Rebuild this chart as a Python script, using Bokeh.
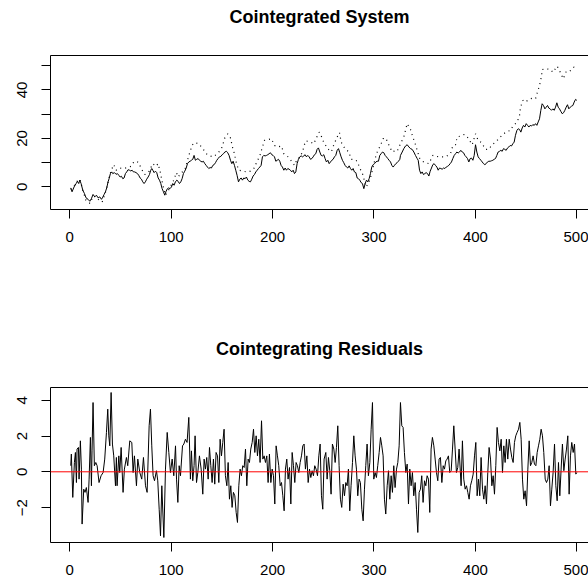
from bokeh.plotting import figure
from bokeh.models import Range1d, FixedTicker, LinearAxis, Span, Title
from bokeh.layouts import column
from bokeh.embed import file_html
from bokeh.resources import INLINE

# ---------------- data ----------------
x_ticks = [0, 100, 200, 300, 400, 500]
sys_yticks = [0, 10, 20, 30, 40, 50]
sys_ylabels = {0: "0", 10: "", 20: "20", 30: "", 40: "40", 50: ""}
res_yticks = [-2, 0, 2, 4]
res_ylabels = {-2: "\u22122", 0: "0", 2: "2", 4: "4"}

# solid series (index, value)
x_t = [1, 2.3, 4.3, 6.3, 7.6, 8.9, 9.9, 11.2, 12.9, 14.5,
       16.1, 18.1, 19.8, 21.4, 23, 24.7, 26.3, 28, 29.6, 31.3,
       32.6, 33.9, 35.2, 36.5, 37.8, 38.8, 40.1, 41.4, 42.4, 44.1,
       45.7, 47, 48.4, 49.7, 51, 52.3, 53.6, 54.9, 56.2, 57.5,
       58.9, 60.2, 61.5, 62.8, 64.1, 65.4, 66.8, 68, 69.4, 70.7,
       72, 73.3, 74.6, 75.9, 77.3, 78.6, 79.9, 80.9, 81.9, 83.2,
       84.5, 85.8, 87.2, 88.5, 89.8, 91.1, 92.4, 93.7, 95, 96.3,
       97.6, 98.9, 100.3, 101.6, 102.9, 104.2, 105.6, 106.9, 108.2, 109.5,
       110.8, 112.1, 113.4, 114.7, 116.1, 117.4, 118.7, 120, 121.3, 122.6,
       123.9, 125.2, 126.6, 127.9, 129.2, 130.5, 131.8, 133.2, 134.5, 135.8,
       137.1, 138.4, 139.7, 141.1, 142.4, 143.7, 145, 146.3, 147.6, 149,
       150.3, 151.6, 152.9, 154.5, 155.8, 157.1, 158.5, 159.8, 161.1, 162.4,
       163.7, 165, 166.4, 167.7, 169, 170.3, 171.6, 172.9, 174.2, 175.6,
       176.9, 178.2, 179.5, 180.8, 182.1, 183.5, 184.8, 186.1, 187.4, 188.7,
       190, 191.3, 192.7, 194, 195.3, 196.6, 197.9, 199.2, 200.5, 201.9,
       203.2, 204.5, 205.8, 207.1, 208.4, 209.7, 211.1, 212.4, 213.7, 215,
       216.3, 217.6, 218.9, 220.3, 221.6, 222.9, 224.2, 225.5, 226.8, 228.2,
       229.5, 230.8, 232.1, 233.4, 234.7, 236.1, 237.4, 238.7, 240, 241.3,
       242.6, 243.9, 245.2, 246.6, 247.9, 249.2, 250.5, 251.8, 253.1, 254.5,
       255.8, 257.1, 258.4, 259.7, 261, 262.3, 263.7, 265, 266.3, 267.6,
       268.9, 270.2, 271.5, 272.9, 274.2, 275.5, 276.8, 278.1, 279.4, 280.7,
       282.1, 283.4, 284.7, 286, 287.3, 288.6, 290, 291.3, 292.6, 293.9,
       295.2, 296.5, 297.8, 299.2, 300.5, 301.8, 303.1, 304.4, 305.7, 307,
       308.4, 309.7, 311, 312.3, 313.6, 314.9, 316.3, 317.6, 318.9, 320.2,
       321.5, 322.8, 324.1, 325.5, 326.1, 327.8, 329.4, 331.1, 332.7, 334.4,
       336, 337.6, 339.3, 340.9, 342.6, 343.6, 344.9, 346.2, 347.5, 348.8,
       350.1, 351.4, 352.8, 354.1, 355.4, 356.7, 358, 359.3, 360.6, 362,
       363.3, 364.6, 365.9, 367.2, 368.5, 369.9, 371.2, 372.5, 373.8, 375.1,
       376.4, 377.7, 379.1, 380.4, 381.7, 383, 384.3, 385.6, 387, 388.3,
       389.6, 390.9, 392.2, 393.5, 394.8, 396.2, 397.5, 398.8, 400.1, 401.4,
       402.7, 404, 405.4, 406.7, 408, 409.3, 410.6, 411.9, 413.2, 414.6,
       415.9, 417.2, 418.5, 419.8, 421.1, 422.4, 423.8, 425.1, 426.4, 427.7,
       429, 430.3, 431.7, 433, 434.3, 435.6, 436.9, 438.2, 439.5, 440.9,
       442.2, 443.5, 444.8, 446.1, 447.4, 448.7, 450.1, 451.4, 452.7, 454,
       455.3, 456.6, 458, 459.3, 460.6, 461.9, 463.2, 464.5, 465.8, 467.1,
       468.5, 469.8, 471.1, 472.4, 473.7, 475, 476.4, 477.7, 479, 480.3,
       481.6, 482.9, 484.3, 485.6, 486.9, 488.2, 489.5, 490.8, 492.1, 493.5,
       494.8, 496.1, 497.4, 498.7, 500]
x_v = [-0.4, -2.0, 0.0, 1.4, 2.3, 1.4, 2.8, 1.4, -1.4, -2.7,
       -4.5, -5.1, -5.9, -4.8, -3.1, -4.1, -3.4, -4.5, -4.1, -5.1,
       -4.2, -3.1, -2.0, -0.4, 2.1, 3.4, 5.5, 6.2, 5.5, 5.9,
       5.2, 5.5, 4.8, 4.1, 4.4, 3.4, 3.7, 5.5, 6.2, 7.1,
       6.9, 6.6, 6.9, 6.2, 6.2, 5.9, 5.5, 4.8, 3.7, 3.2,
       2.1, 1.4, 2.1, 3.2, 4.1, 5.1, 6.9, 7.6, 6.9, 5.9,
       6.5, 5.9, 3.7, 2.8, 1.4, -0.7, -2.0, -3.4, -1.8, -0.7,
       -0.4, -0.7, 0.0, 1.4, 0.7, 2.1, 2.8, 2.3, 1.4, 2.1,
       3.4, 5.5, 6.5, 7.6, 9.6, 10.3, 10.6, 11.0, 11.4, 13.0,
       11.0, 11.4, 11.7, 11.0, 10.6, 10.3, 10.6, 9.6, 8.9, 8.2,
       7.6, 8.0, 7.8, 8.9, 9.2, 10.0, 11.0, 11.7, 12.4, 12.6,
       13.3, 13.7, 14.4, 14.7, 14.1, 13.0, 11.0, 9.6, 10.6, 8.9,
       6.9, 4.8, 2.1, 3.2, 3.7, 2.8, 3.7, 3.4, 4.1, 2.8,
       2.3, 2.1, 3.2, 4.5, 5.1, 6.2, 6.9, 7.6, 8.2, 8.9,
       12.4, 13.0, 12.8, 13.0, 13.3, 13.7, 14.1, 13.3, 13.0, 12.4,
       10.6, 11.0, 11.4, 10.6, 8.9, 8.2, 6.9, 7.8, 6.9, 7.6,
       7.3, 6.9, 6.2, 6.9, 5.5, 6.2, 9.6, 11.4, 12.4, 12.8,
       12.4, 12.8, 13.3, 12.4, 13.0, 12.4, 11.4, 11.7, 12.4, 13.3,
       13.7, 15.5, 16.1, 14.4, 13.0, 12.8, 13.3, 11.7, 10.3, 11.0,
       9.6, 10.3, 11.0, 11.4, 12.4, 13.0, 15.1, 15.8, 14.1, 12.4,
       11.0, 10.0, 8.9, 8.2, 7.8, 8.7, 7.6, 6.9, 7.6, 6.2,
       5.9, 3.7, 3.4, 2.8, 1.8, 1.4, -0.7, 1.4, 2.8, 2.1,
       3.4, 5.5, 8.2, 9.2, 9.6, 10.3, 10.6, 10.6, 13.0, 13.7,
       14.4, 14.1, 13.0, 12.4, 11.7, 11.0, 10.3, 8.9, 8.2, 8.9,
       9.6, 10.0, 10.6, 11.4, 13.0, 14.4, 15.8, 16.9, 17.4, 16.5,
       15.8, 15.5, 14.4, 13.0, 11.7, 11.0, 6.9, 5.5, 6.2, 5.1,
       5.5, 5.9, 5.5, 4.5, 6.5, 7.8, 9.2, 9.6, 8.9, 8.2,
       6.9, 7.8, 7.6, 7.3, 7.8, 7.6, 8.2, 8.5, 8.9, 9.6,
       10.3, 11.7, 13.0, 13.7, 14.4, 14.0, 14.4, 15.1, 14.4, 14.1,
       13.0, 12.4, 11.7, 10.3, 11.7, 11.9, 11.0, 13.0, 17.4, 14.4,
       12.4, 11.7, 11.0, 10.3, 9.6, 9.2, 9.6, 10.3, 10.6, 10.6,
       10.8, 11.0, 11.4, 11.7, 13.0, 14.4, 14.7, 15.1, 14.7, 15.8,
       15.5, 15.1, 16.1, 16.5, 17.1, 16.9, 17.8, 18.5, 21.3, 23.3,
       24.0, 23.7, 22.6, 24.3, 25.4, 24.7, 26.1, 25.4, 24.7, 25.4,
       25.1, 25.7, 25.4, 26.1, 25.4, 26.8, 28.1, 31.6, 34.3, 33.6,
       32.2, 32.9, 33.6, 32.5, 32.2, 31.6, 32.2, 31.6, 32.9, 34.7,
       32.9, 32.2, 31.1, 30.2, 30.6, 31.6, 32.9, 33.9, 32.2, 32.9,
       33.3, 33.6, 35.0, 36.1, 35.7]

# dotted series (index, value)
y_t = [1, 4, 8, 10, 13, 16, 20, 23, 26, 29,
       32, 35, 37, 38.5, 41, 43.4, 45.7, 49, 52.6, 57.2,
       60.5, 63.1, 65.8, 68.1, 70.4, 74, 77.9, 81.9, 85, 87.1,
       89.1, 91.7, 94.4, 98.3, 102.6, 105.2, 106.9, 110.1, 113.4, 115.7,
       118, 120.7, 123.3, 127.2, 131.2, 135.5, 138.4, 141.4, 144.3, 147,
       149.6, 150.9, 152.9, 155.8, 158.5, 160.4, 162.4, 164.4, 166.7, 170,
       174.2, 178.2, 181.5, 184.8, 187.4, 189.7, 192, 195.6, 198.9, 201.9,
       205.1, 208.8, 211.1, 215.3, 219.3, 221.6, 224.2, 227.5, 230.1, 232.4,
       236.4, 240.6, 243.3, 245.9, 248.2, 250.5, 253.1, 255.4, 258, 260.4,
       263.7, 266, 267.6, 270.9, 275.2, 277.5, 280.1, 283.4, 286, 289.3,
       291.9, 294.6, 297.2, 299.2, 301.1, 303.8, 306.4, 309, 311.6, 314.6,
       317.9, 321.2, 322.8, 326.1, 329.4, 332.7, 336, 338.3, 340.3, 342.6,
       344.9, 347.5, 350.8, 354.1, 358, 361.3, 365.6, 370.5, 375.4, 377.7,
       380.4, 382, 385.3, 388.6, 390.9, 394.2, 396.8, 400.1, 402.7, 406,
       410, 413.2, 416.5, 419.8, 423.1, 427, 431.3, 434.6, 436.9, 441.2,
       443.5, 444.5, 446.8, 449.4, 452.7, 456, 459.3, 461.2, 463.2, 465.2,
       465.8, 469.8, 474.1, 476.4, 480.6, 482.9, 486.6, 489.5, 492.8, 497.1, 500]
y_v = [-1.0, 0.3, 2.8, 3.2, -1.5, -5.5, -6.8, -3.8, -4.2, -5.5,
       -6.2, -2.5, 0.5, 3.4, 6.9, 9.2, 6.9, 7.8, 7.6, 8.0,
       8.5, 10.3, 10.6, 10.0, 7.6, 5.1, 6.2, 9.6, 8.5, 9.6,
       6.5, 1.0, -3.4, -0.7, 2.8, 5.9, 4.1, 5.9, 6.9, 10.3,
       13.7, 17.2, 18.3, 17.8, 15.8, 13.3, 12.8, 12.4, 13.3, 14.4,
       15.8, 17.4, 20.2, 21.9, 20.2, 16.5, 13.7, 9.6, 6.9, 6.6,
       6.2, 6.5, 7.6, 10.6, 12.8, 16.1, 19.2, 19.5, 19.9, 17.1,
       16.5, 16.9, 13.7, 12.4, 10.3, 8.9, 11.4, 12.4, 15.4, 18.9,
       18.8, 17.8, 20.3, 22.6, 20.8, 18.3, 16.7, 15.4, 14.5, 17.4,
       20.6, 22.4, 18.5, 16.1, 14.4, 11.4, 11.4, 10.6, 7.8, 4.8,
       0.0, 1.4, 4.8, 8.2, 11.7, 15.1, 17.1, 19.9, 20.2, 17.4,
       14.4, 15.0, 14.7, 17.8, 20.6, 26.1, 23.7, 20.6, 18.3, 15.1,
       11.9, 10.6, 10.0, 9.6, 13.0, 12.6, 12.4, 12.4, 13.7, 16.9,
       17.4, 20.6, 21.0, 21.6, 21.3, 19.2, 17.4, 21.9, 19.2, 18.3,
       15.5, 15.5, 17.4, 18.5, 19.9, 21.7, 22.9, 23.3, 25.1, 26.8,
       29.5, 32.9, 35.7, 35.0, 36.1, 36.6, 36.4, 39.1, 41.8, 45.7,
       48.4, 48.7, 48.4, 47.3, 49.8, 48.0, 44.6, 47.6, 47.6, 49.4, 49.0]

# residual series (index, value)
res_t = [1, 1.6, 3.0, 4.6, 5.6, 6.6, 7.2, 8.6, 9.2, 10.5,
         11.5, 12.2, 13.8, 15.1, 16.4, 18.1, 19.1, 20.4, 21.4, 22.0,
         23.0, 24.3, 25.7, 27.0, 28.9, 30.9, 32.9, 34.5, 36.2, 37.5,
         38.5, 39.5, 40.8, 42.1, 43.4, 45.1, 46.0, 46.7, 48.4, 49.3,
         50.7, 52.6, 53.9, 55.9, 57.2, 59.2, 61.2, 62.5, 63.8, 65.8,
         67.1, 69.1, 71.0, 72.7, 74.7, 76.3, 78.3, 79.6, 80.9, 82.2,
         83.6, 85.5, 86.8, 88.2, 89.5, 90.8, 92.8, 94.4, 96.1, 97.7,
         99.3, 101.0, 102.6, 104.3, 105.3, 106.6, 107.9, 109.2, 111.2, 112.5,
         114.1, 115.7, 117.4, 119.0, 120.0, 121.3, 122.6, 123.6, 125.0, 126.3,
         127.9, 129.6, 131.2, 132.5, 133.8, 135.1, 136.5, 137.8, 139.1, 140.4,
         141.7, 143.0, 144.3, 145.7, 147.0, 148.3, 149.6, 150.9, 152.2, 153.5,
         154.9, 156.2, 157.5, 158.8, 160.1, 161.4, 162.8, 164.1, 165.4, 166.7,
         168.0, 169.3, 170.6, 172.0, 173.3, 174.6, 175.9, 177.2, 178.5, 179.9,
         181.2, 182.5, 183.8, 185.1, 186.4, 187.7, 189.1, 190.4, 191.7, 193.0,
         194.3, 195.6, 196.9, 198.3, 199.6, 200.9, 202.2, 203.5, 204.8, 206.1,
         207.5, 208.8, 210.1, 211.4, 212.7, 214.0, 215.3, 216.7, 218.0, 219.3,
         220.6, 221.9, 223.2, 224.5, 225.9, 227.2, 228.5, 229.8, 231.1, 232.4,
         233.8, 235.1, 236.4, 237.7, 239.0, 240.3, 241.6, 242.9, 244.3, 245.6,
         246.9, 248.2, 249.5, 250.8, 252.5, 253.8, 255.1, 256.4, 257.7, 259.0,
         260.4, 261.7, 263.0, 264.3, 265.6, 266.9, 268.2, 269.6, 270.9, 272.2,
         273.5, 274.8, 276.1, 277.4, 278.8, 280.1, 281.4, 282.7, 284.0, 285.3,
         286.6, 288.0, 289.3, 290.6, 291.9, 293.2, 294.5, 295.9, 297.2, 298.5,
         299.8, 301.1, 302.4, 303.7, 305.1, 306.4, 307.7, 309.0, 310.3, 311.6,
         313.0, 314.3, 315.6, 316.9, 318.2, 319.5, 320.8, 322.2, 323.5, 324.8,
         326.1, 327.4, 328.7, 330.0, 331.4, 332.7, 334.0, 335.3, 336.6, 337.9,
         339.2, 340.6, 341.9, 343.2, 344.5, 345.8, 347.1, 348.4, 349.8, 351.1,
         352.4, 353.7, 355.0, 356.3, 357.6, 359.0, 360.3, 361.6, 362.9, 364.2,
         365.5, 366.9, 368.2, 369.5, 370.8, 372.1, 373.4, 374.7, 376.1, 377.4,
         378.7, 380.0, 381.3, 382.6, 383.9, 385.9, 387.2, 388.5, 389.9, 391.2,
         392.5, 393.8, 395.1, 396.4, 397.8, 399.1, 400.4, 401.7, 403.0, 404.3,
         405.6, 407.0, 408.3, 409.6, 410.9, 412.2, 413.5, 414.9, 416.2, 417.5,
         418.8, 420.1, 421.4, 422.7, 424.1, 425.4, 426.7, 428.0, 429.3, 430.6,
         431.9, 433.3, 434.6, 435.9, 437.2, 438.5, 439.8, 441.1, 442.5, 443.8,
         445.1, 446.4, 447.7, 449.0, 450.4, 451.7, 453.0, 454.3, 455.6, 456.9,
         458.2, 459.6, 460.9, 462.2, 463.5, 464.8, 466.1, 467.4, 468.8, 470.1,
         471.4, 472.7, 474.0, 475.3, 476.6, 478.0, 479.3, 480.6, 481.9, 483.2,
         484.5, 485.8, 487.2, 488.5, 489.8, 491.1, 492.4, 493.7, 495.0, 496.4,
         497.7, 499.0, 500.0]
res_v = [0.34, 0.99, -1.43, 0.52, 1.08, -0.60, 1.27, 1.36, -0.41, 1.73,
         0.15, -2.92, -0.97, -1.15, -0.88, -1.71, -0.41, 1.92, -0.78, 1.17,
         3.87, 0.34, 0.52, 0.34, -0.60, -0.22, -0.04, 0.71, 2.20, 3.50,
         2.01, 1.45, 4.43, 1.55, 0.89, -0.78, 0.80, -0.78, 0.89, -0.04,
         1.36, -1.15, 0.15, 0.80, 0.34, 1.73, 1.64, -0.04, 0.89, -0.78,
         0.71, -0.04, -0.41, 0.80, -0.78, -1.15, 2.57, 3.50, 1.45, -0.22,
         -0.50, 0.06, -0.50, -2.09, -3.58, -0.78, -3.67, 0.15, 2.20, 1.08,
         -0.04, 0.71, -0.22, 1.45, -0.41, -1.71, 0.34, -0.22, 1.45, 1.55,
         1.82, 1.64, 3.04, -0.41, 1.17, -0.50, 0.34, 2.01, -0.60, -0.04,
         0.89, 0.15, -1.25, 0.71, 0.15, 0.80, -0.41, 1.36, 0.34, -0.60,
         0.71, -0.69, 1.08, 0.89, -0.60, 1.82, 0.89, 1.64, 2.38, -0.22,
         -0.78, 0.52, -1.53, -0.78, -1.99, -1.15, -1.34, -2.27, -2.83, -0.78,
         0.15, -0.22, 0.34, 0.24, 1.27, -0.78, 0.71, 0.52, 1.27, 1.64,
         2.38, 1.08, 2.01, 0.89, 1.82, 0.52, 2.85, 0.71, 0.89, 0.52,
         0.89, -0.60, 0.99, -0.60, 0.15, -0.22, -1.80, 1.45, 0.89, 0.34,
         -0.78, -0.60, -1.34, -2.18, 0.15, 0.71, -0.41, 0.24, -1.80, 1.08,
         0.34, -0.60, 0.52, 0.34, -0.04, 0.52, 0.89, 1.45, 1.55, 0.15,
         0.89, -0.60, 0.15, -0.32, 0.06, -0.22, 0.34, 0.15, -0.22, 0.89,
         1.55, -1.34, -2.09, 0.71, 1.08, -0.41, 0.80, 0.06, -1.25, 1.55,
         1.27, 0.52, 1.36, 2.57, 0.34, -1.53, -1.99, -0.69, -1.34, -0.60,
         -0.78, 0.15, -2.18, -0.78, 0.52, 2.01, 0.89, 0.15, -1.34, -0.41,
         -0.60, -2.09, -2.74, -0.97, 0.34, 1.55, -0.22, 0.52, 2.38, 3.87,
         -0.41, -0.04, -0.32, 0.34, 1.08, 1.92, 1.45, 0.89, -1.53, -2.36,
         -0.78, 0.06, -1.53, -0.22, -1.15, 0.34, -0.88, 0.15, 0.52, 1.45,
         3.87, 2.57, 2.48, 1.08, -0.04, 0.43, -1.80, 0.15, -0.78, -0.04,
         -1.34, -0.60, -2.09, -3.39, -1.15, -0.97, -0.22, -1.71, -0.50, -0.78,
         -0.22, -0.41, -2.27, 1.27, 1.92, 1.45, 0.71, -0.04, -0.50, 0.71,
         0.80, -0.60, 0.34, 0.15, 0.61, 0.71, 0.89, -0.04, 0.06, 1.27,
         2.57, 1.27, -0.04, 0.24, 1.27, -0.78, 1.73, -0.41, -0.97, -0.78,
         -1.15, -1.53, -0.78, -0.50, -0.13, 0.89, 1.64, -1.34, -0.41, -1.34,
         0.80, -0.97, -1.53, -0.78, -1.80, -0.04, 1.36, 0.71, -0.78, -0.22,
         -1.25, 0.34, 2.48, 1.64, 1.17, 1.82, -0.04, 1.45, 0.52, 1.82,
         0.71, 1.82, 1.27, 0.80, 0.52, 1.64, 2.01, 2.20, 2.38, 2.76,
         1.82, -0.41, -1.53, -1.06, -1.90, 0.15, 1.73, 0.34, 0.52, 0.89,
         0.43, 0.34, 1.08, 1.45, 1.82, 2.38, 2.01, 1.08, -0.41, -0.60,
         -0.41, 0.34, -1.90, -0.97, -0.04, 1.55, -0.78, -1.62, 0.52, -1.34,
         0.15, 1.55, 0.06, 0.71, 1.27, 2.01, -1.25, 0.89, 1.64, 1.08,
         1.55, -0.13, -0.04]

titles = ["Cointegrated System", "Cointegrating Residuals"]

# ---------------- styling ----------------
FONT = "Liberation Sans"
X_RANGE = (-18.96, 511.5)


def pair(a, b):
    n = min(len(a), len(b))
    return list(a[:n]), list(b[:n])


def make_panel(height, top, bottom, yr, yticks, ylabels, title):
    p = figure(width=588, height=height, x_range=Range1d(*X_RANGE),
               y_range=Range1d(*yr), output_backend="svg",
               toolbar_location=None, min_border_left=50,
               min_border_right=0, min_border_top=top,
               min_border_bottom=bottom, x_axis_location=None,
               y_axis_location=None)
    p.grid.visible = False
    p.outline_line_color = None
    p.background_fill_color = "white"
    p.border_fill_color = "white"

    xa = LinearAxis(ticker=FixedTicker(ticks=x_ticks))
    ya = LinearAxis(ticker=FixedTicker(ticks=yticks),
                    major_label_overrides=ylabels)
    for ax in (xa, ya):
        ax.axis_line_color = "black"
        ax.axis_line_width = 1
        ax.major_tick_line_color = "black"
        ax.major_tick_in = 0
        ax.major_tick_out = 9
        ax.minor_tick_line_color = None
        ax.major_label_text_font = FONT
        ax.major_label_text_font_size = "15px"
        ax.major_label_text_color = "black"
    xa.major_label_standoff = 13
    ya.major_label_standoff = 14
    ya.major_label_orientation = "vertical"
    p.add_layout(xa, "below")
    p.add_layout(ya, "left")

    ta = LinearAxis(ticker=FixedTicker(ticks=[]), axis_line_color="black",
                    major_tick_line_color=None, minor_tick_line_color=None,
                    major_label_text_font_size="0px")
    p.add_layout(ta, "above")

    # blank spacer between the box and the title
    sp = Title(text=" ", text_font_size="1px", standoff=22)
    p.add_layout(sp, "above")

    t = Title(text=title, align="center", text_font=FONT,
              text_font_size="18px", text_font_style="bold",
              text_color="black", offset=2, standoff=8)
    p.add_layout(t, "above")
    return p


p1 = make_panel(291, 55, 82, (-9.30, 54.2), sys_yticks, sys_ylabels, titles[0])
xt, xv = pair(x_t, x_v)
yt, yv = pair(y_t, y_v)
p1.line(xt, xv, line_color="black", line_width=1)
p1.line(yt, yv, line_color="black", line_width=1.2, line_dash="1 4")

p2 = make_panel(291, 96, 40, (-3.95, 4.71), res_yticks, res_ylabels, titles[1])
rt, rv = pair(res_t, res_v)
p2.line(rt, rv, line_color="black", line_width=1)
p2.add_layout(Span(location=0, dimension="width", line_color="red",
                   line_width=1))

layout = column(p1, p2, spacing=0)
open("out.html", "w").write(file_html(layout, INLINE))
